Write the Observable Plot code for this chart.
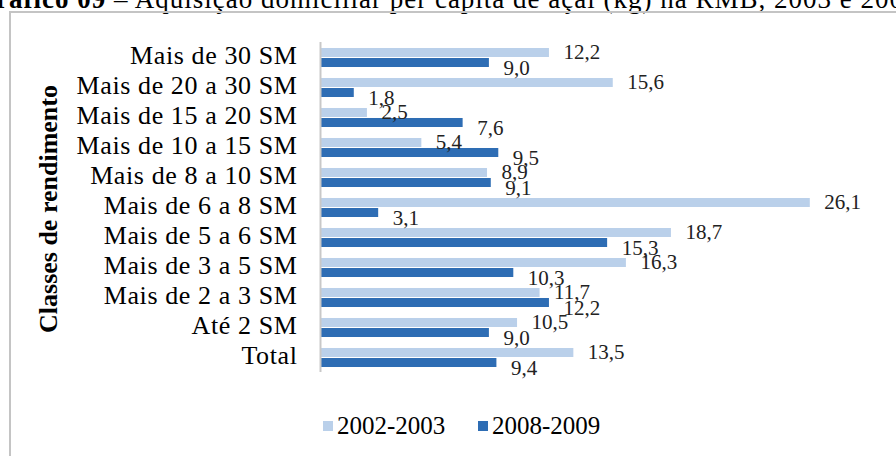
<!DOCTYPE html>
<html>
<head>
<meta charset="utf-8">
<script src="https://cdn.jsdelivr.net/npm/d3@7"></script>
<script src="https://cdn.jsdelivr.net/npm/@observablehq/plot@0.6"></script>
<style>
  html, body { margin: 0; padding: 0; background: #fff; }
  body { width: 896px; height: 456px; position: relative; overflow: hidden; font-family: "Liberation Serif", "Times New Roman", serif; }
  #title { position: absolute; left: -26px; top: -14px; font-size: 27px; letter-spacing: 1px; line-height: 1; white-space: nowrap; color: #000; }
  #frame { position: absolute; left: 9px; top: 11px; width: 1000px; height: 1000px; border-left: 2px solid #c4c4c4; border-top: 2px solid #c4c4c4; }
  #chart { position: absolute; left: 0; top: 0; }
  #chart svg g[aria-label^="fy-axis"] text { letter-spacing: 0.6px; }
  #ytitle { position: absolute; left: 49px; top: 209px; transform: translate(-50%, -50%) rotate(-90deg); font-weight: bold; font-size: 26px; white-space: nowrap; color: #000; }
  .leg { position: absolute; top: 412px; display: flex; align-items: center; font-size: 25px; color: #000; }
  .sw { width: 10px; height: 10px; margin-right: 4px; }
</style>
</head>
<body>
<div id="title"><b>Gráfico 09</b> – Aquisição domiciliar per capita de açaí (kg) na RMB, 2003 e 2009</div>
<div id="frame"></div>
<div id="chart"></div>
<div id="ytitle">Classes de rendimento</div>
<div id="legend"></div>
<script>
const categories = ["Mais de 30 SM","Mais de 20 a 30 SM","Mais de 15 a 20 SM","Mais de 10 a 15 SM","Mais de 8 a 10 SM","Mais de 6 a 8 SM","Mais de 5 a 6 SM","Mais de 3 a 5 SM","Mais de 2 a 3 SM","Até 2 SM","Total"];
const series = ["2002-2003", "2008-2009"];
const values2002 = [12.2, 15.6, 2.5, 5.4, 8.9, 26.1, 18.7, 16.3, 11.7, 10.5, 13.5];
const values2008 = [9.0, 1.8, 7.6, 9.5, 9.1, 3.1, 15.3, 10.3, 12.2, 9.0, 9.4];
const colors = ["#bad0ea", "#2e6db4"];

const rows = [];
categories.forEach((c, i) => {
  rows.push({cat: c, series: series[0], value: values2002[i]});
  rows.push({cat: c, series: series[1], value: values2008[i]});
});
const fmt = v => d3.format(".1f")(v).replace(".", ",");

const chart = Plot.plot({
  width: 896,
  height: 456,
  marginLeft: 320,
  marginRight: 13,
  marginTop: 40,
  marginBottom: 83,
  style: {fontFamily: "'Liberation Serif', 'Times New Roman', serif", fontSize: "26px", background: "transparent"},
  x: {domain: [0, 30], axis: null},
  y: {domain: series, axis: null, paddingInner: 0.12, paddingOuter: 0.46},
  fy: {domain: categories, padding: 0, label: null, axis: null},
  color: {domain: series, range: colors},
  marks: [
    Plot.axisFy({anchor: "left", tickSize: 0, tickPadding: 23, label: null, dy: -2}),
    Plot.barX(rows, {x: "value", y: "series", fy: "cat", fill: "series"}),
    Plot.ruleX([0], {stroke: "#c8c8c8", strokeWidth: 2}),
    Plot.text(rows.filter(d => d.series === series[0]), {x: "value", y: "series", fy: "cat", text: d => fmt(d.value), dx: 14, dy: -1, textAnchor: "start", fontSize: 21, fill: "#222"}),
    Plot.text(rows.filter(d => d.series === series[1]), {x: "value", y: "series", fy: "cat", text: d => fmt(d.value), dx: 14, dy: 5, textAnchor: "start", fontSize: 21, fill: "#222"})
  ]
});
document.getElementById("chart").appendChild(chart);

const legend = document.getElementById("legend");
const legX = [323, 478];
series.forEach((s, i) => {
  const item = document.createElement("div");
  item.className = "leg";
  item.style.left = legX[i] + "px";
  const sw = document.createElement("div");
  sw.className = "sw";
  sw.style.background = colors[i];
  item.appendChild(sw);
  const t = document.createElement("span");
  t.textContent = s;
  item.appendChild(t);
  legend.appendChild(item);
});
</script>
</body>
</html>
